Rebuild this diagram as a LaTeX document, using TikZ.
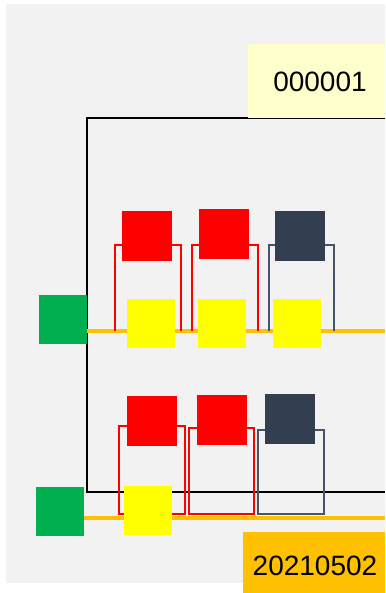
\documentclass[tikz,border=0pt]{standalone}
\usepackage{fontspec}
\setmainfont{Liberation Sans}
\definecolor{bgg}{HTML}{F2F2F2}
\definecolor{lab1}{HTML}{FFFFCC}
\definecolor{org}{HTML}{FFC000}
\definecolor{grn}{HTML}{00B050}
\definecolor{dsq}{HTML}{333F50}
\definecolor{dln}{HTML}{44546A}
\definecolor{ylw}{HTML}{FFFF00}
\definecolor{rd}{HTML}{FF0000}
\begin{document}
\begin{tikzpicture}[x=1pt,y=-1pt,
  sq/.style={draw=none,inner sep=0pt,minimum width=48pt,minimum height=49pt},
  bus/.style={draw=org,line width=3.5pt},
  brk/.style={line width=2.5pt},
  lab/.style={inner sep=0pt,font=\fontsize{28}{33}\selectfont}]
\useasboundingbox (0,0) rectangle (385,593);
\fill[bgg] (6,4) rectangle (385,583);
% frame
\draw[line width=2.4pt] (385,118) -- (87,118) -- (87,492) -- (385,492);
% labels
\fill[lab1] (248,44) rectangle (385,118);
\node[lab] (t1) at (320,82) {000001};
\fill[org] (243,532) rectangle (385,593);
\node[lab] (t2) at (315,566) {20210502};
% buses
\draw[bus] (87,331) -- (385,331);
\draw[bus] (84,518) -- (385,518);
% row 1 brackets
\draw[brk,rd] (115,331) -- (115,245) -- (181,245) -- (181,331);
\draw[brk,rd] (192,331) -- (192,245) -- (258,245) -- (258,331);
\draw[brk,dln] (269,331) -- (269,245) -- (334,245) -- (334,331);
% row 2 rectangles
\draw[brk,rd] (119,426) rectangle (185,514);
\draw[brk,rd] (189,428) rectangle (254,514);
\draw[brk,dln] (258,430) rectangle (324,514);
% row 1 squares
\node[sq,fill=grn] (g1) at (63,319.5) {};
\node[sq,fill=rd,minimum width=50pt,minimum height=50pt] (a1) at (147,236) {};
\node[sq,fill=rd,minimum width=50pt,minimum height=50pt] (a2) at (224,234) {};
\node[sq,fill=dsq,minimum width=50pt,minimum height=50pt] (a3) at (300,236) {};
\node[sq,fill=ylw] (y1) at (151,323.5) {};
\node[sq,fill=ylw] (y2) at (222,323.5) {};
\node[sq,fill=ylw] (y3) at (297,323.5) {};
% row 2 squares
\node[sq,fill=grn] (g2) at (60,511.5) {};
\node[sq,fill=rd,minimum width=50pt,minimum height=50pt] (b1) at (152,421) {};
\node[sq,fill=rd,minimum width=50pt,minimum height=50pt] (b2) at (222,420) {};
\node[sq,fill=dsq,minimum width=50pt,minimum height=50pt] (b3) at (290,419) {};
\node[sq,fill=ylw] (y4) at (148,510.5) {};
\end{tikzpicture}
\end{document}
